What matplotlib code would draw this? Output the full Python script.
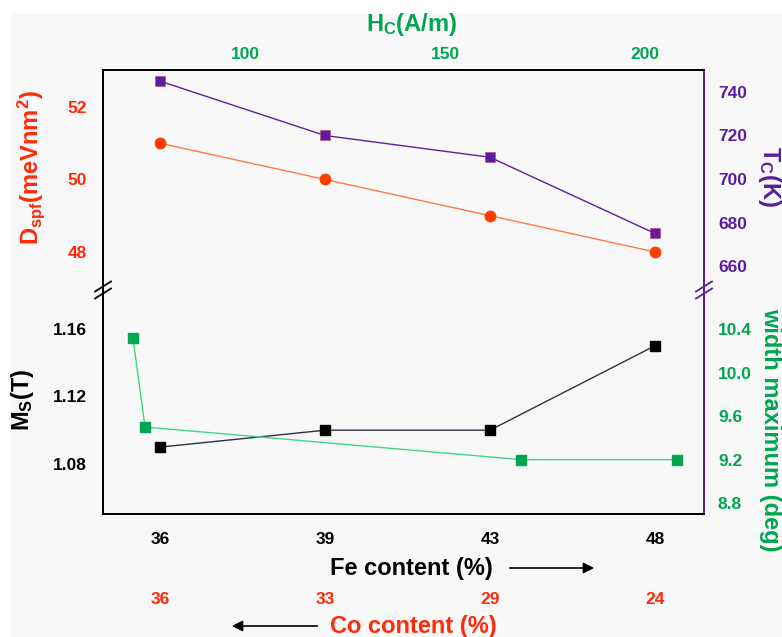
import matplotlib
matplotlib.use("Agg")
from matplotlib import pyplot as plt
from matplotlib.patches import Rectangle, FancyArrowPatch
from matplotlib.lines import Line2D

# data
fe = [36, 39, 43, 48]
co = [36, 33, 29, 24]
dspf = [51, 50, 49, 48]
tc = [745, 720, 710, 675]
ms = [1.09, 1.10, 1.10, 1.15]
hc = [72, 75, 169, 208]
width = [10.32, 9.50, 9.20, 9.20]

RED = "#ff2a0a"
RED_LINE = "#ff7a45"
PURPLE = "#5a1e9e"
GREEN = "#00a651"
GREEN_LINE = "#3fd889"

plt.rcParams["font.family"] = ["Liberation Sans", "DejaVu Sans"]
plt.rcParams["font.weight"] = "bold"
plt.rcParams["mathtext.fontset"] = "custom"
plt.rcParams["mathtext.rm"] = "Liberation Sans:bold"
plt.rcParams["mathtext.bf"] = "Liberation Sans:bold"
plt.rcParams["mathtext.it"] = "Liberation Sans:bold"

W, H = 782, 637
fig = plt.figure(figsize=(W / 100, H / 100), dpi=100)
fig.patches.append(Rectangle((11 / W, 0), 1, 1 - 13 / H, transform=fig.transFigure,
                             facecolor="#f8f8f8", edgecolor="none", zorder=-10))


def fx(px):
    return px / W


def fy(py):
    return 1 - py / H


x0, x1 = 103, 704
y_top, y_brk, y_bot = 70, 290, 514
ax_top = fig.add_axes([fx(x0), fy(y_brk), fx(x1) - fx(x0), fy(y_top) - fy(y_brk)])
ax_bot = fig.add_axes([fx(x0), fy(y_bot), fx(x1) - fx(x0), fy(y_brk) - fy(y_bot)])
for a in (ax_top, ax_bot):
    a.set_facecolor("none")

idx = list(range(len(fe)))
xlim = (-0.345, 3.297)
hclim = (64.5, 214.75)
TICK = 12.5
LAB = 17

# ---- top panel: Dspf (left), Tc (right), Hc (top) ----
ax_top.plot(idx, dspf, color=RED_LINE, lw=1.0, marker="o", ms=7.5,
            mfc="#ff3d00", mec="#ff3d00", zorder=3)
ax_top.set_xlim(xlim)
ax_top.set_ylim(46.95, 53.02)
ax_top.set_yticks([48, 50, 52])
ax_top.set_xticks([])
ax_top.tick_params(axis="y", length=0, pad=11.5, labelsize=TICK, labelcolor=RED)

ax_tc = ax_top.twinx()
ax_tc.plot(idx, tc, color=PURPLE, lw=1.0, marker="s", ms=6.5,
           mfc=PURPLE, mec="#c04070", mew=0.4, zorder=3)
ax_tc.set_ylim(649, 750.1)
ax_tc.set_yticks([660, 680, 700, 720, 740])
ax_tc.tick_params(axis="y", length=0, pad=10, labelsize=TICK, labelcolor=PURPLE)

ax_hc = ax_top.twiny()
ax_hc.set_xlim(hclim)
ax_hc.set_xticks([100, 150, 200])
ax_hc.tick_params(axis="x", length=0, pad=6, labelsize=TICK, labelcolor=GREEN)

for a in (ax_top, ax_tc, ax_hc):
    a.spines["bottom"].set_visible(False)
    a.spines["top"].set_linewidth(1.3)
    a.spines["left"].set_linewidth(1.3)
    a.spines["right"].set_linewidth(1.3)
    a.spines["right"].set_color(PURPLE)

# ---- bottom panel: Ms (left), width (right), Fe / Co (bottom) ----
ax_bot.plot(idx, ms, color="#303040", lw=1.0, marker="s", ms=6.5,
            mfc="black", mec="black", zorder=3)
ax_bot.set_xlim(xlim)
ax_bot.set_ylim(1.0504, 1.183)
ax_bot.set_yticks([1.08, 1.12, 1.16])
ax_bot.set_yticklabels(["1.08", "1.12", "1.16"])
ax_bot.set_xticks(idx)
ax_bot.set_xticklabels([str(v) for v in fe])
ax_bot.tick_params(axis="y", length=0, pad=11.5, labelsize=TICK, labelcolor="black")
ax_bot.tick_params(axis="x", length=0, pad=13, labelsize=TICK, labelcolor="black")

sec = ax_bot.secondary_xaxis("bottom")
sec.set_xticks(idx)
sec.set_xticklabels([str(v) for v in co])
sec.tick_params(axis="x", length=0, pad=56, labelsize=TICK, labelcolor=RED)
sec.spines["bottom"].set_visible(False)

ax_w = ax_bot.twinx()
ax_w.set_ylim(8.70, 10.76)
ax_w.set_yticks([8.8, 9.2, 9.6, 10.0, 10.4])
ax_w.set_yticklabels(["8.8", "9.2", "9.6", "10.0", "10.4"])
ax_w.tick_params(axis="y", length=0, pad=10, labelsize=TICK, labelcolor=GREEN)

ax_wh = ax_w.twiny()
ax_wh.set_xlim(hclim)
ax_wh.set_xticks([])
ax_wh.plot(hc, width, color=GREEN_LINE, lw=1.0, marker="s", ms=6.5,
           mfc=GREEN, mec=GREEN, zorder=3)

for a in (ax_bot, ax_w, ax_wh):
    a.spines["top"].set_visible(False)
    a.spines["bottom"].set_linewidth(1.3)
    a.spines["left"].set_linewidth(1.3)
    a.spines["right"].set_linewidth(1.3)
    a.spines["right"].set_color(PURPLE)

# ---- break marks on the two vertical spines ----
for xc, col in ((x0, "black"), (x1, PURPLE)):
    for dy in (-3.5, 3.5):
        fig.add_artist(Line2D([fx(xc - 8), fx(xc + 8)],
                              [fy(y_brk + dy + 5), fy(y_brk + dy - 5)],
                              transform=fig.transFigure, color=col, lw=1.3))

# ---- axis titles ----
fig.text(fx(31), fy(168), r"D$_{\mathrm{spf}}$(meVnm$^{\mathrm{2}}$)", color=RED,
         fontsize=LAB, rotation=90, ha="center", va="center")
fig.text(fx(22), fy(400), r"M$_{\mathrm{S}}$(T)", color="black",
         fontsize=LAB, rotation=90, ha="center", va="center")
fig.text(fx(412), fy(24), r"H$_{\mathrm{C}}$(A/m)", color=GREEN,
         fontsize=LAB, ha="center", va="center")
fig.text(fx(770), fy(176), r"T$_{\mathrm{C}}$(K)", color=PURPLE,
         fontsize=LAB, rotation=270, ha="center", va="center")
fig.text(fx(771), fy(430), "width maximum (deg)", color=GREEN,
         fontsize=LAB, rotation=270, ha="center", va="center")
fig.text(fx(411), fy(568), "Fe content (%)", color="black",
         fontsize=LAB, ha="center", va="center")
fig.text(fx(413), fy(626), "Co content (%)", color=RED,
         fontsize=LAB, ha="center", va="center")

# direction arrows
fig.add_artist(FancyArrowPatch(
    (fx(507), fy(568)), (fx(597), fy(568)), transform=fig.transFigure,
    arrowstyle="-|>", mutation_scale=16, color="black", lw=1.2))
fig.add_artist(FancyArrowPatch(
    (fx(320), fy(626)), (fx(229), fy(626)), transform=fig.transFigure,
    arrowstyle="-|>", mutation_scale=16, color="black", lw=1.2))

fig.savefig("out.png", dpi=100, facecolor="white")
